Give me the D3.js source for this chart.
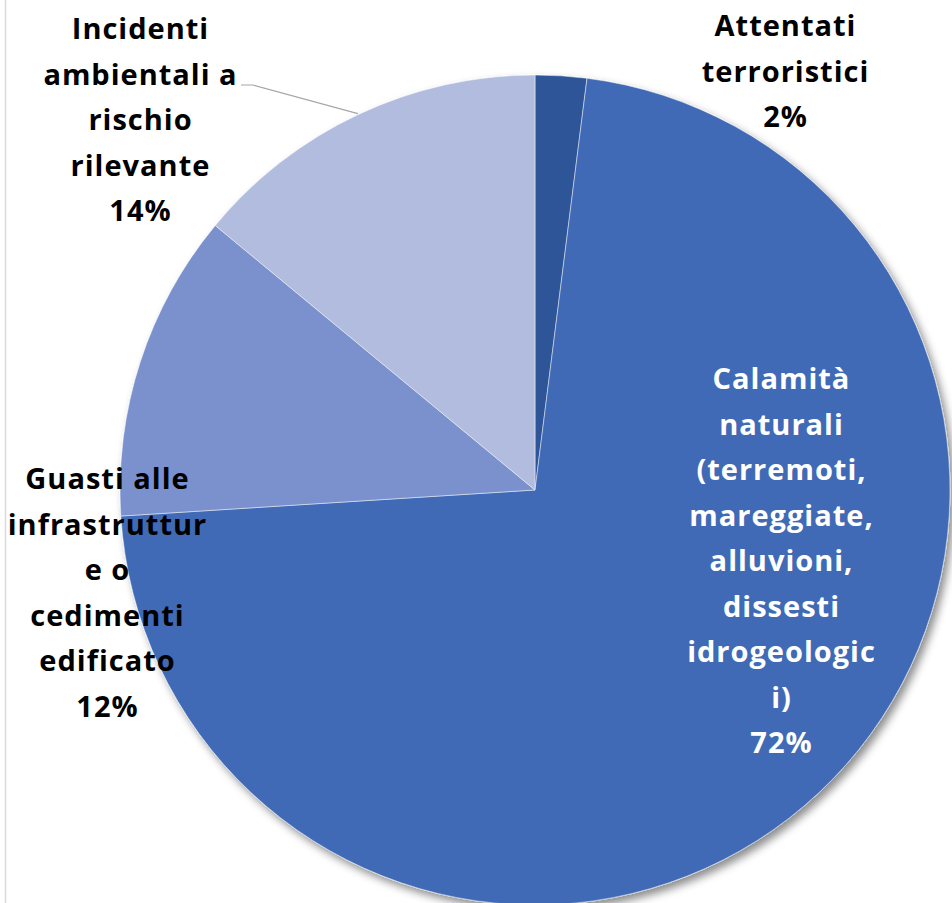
<!DOCTYPE html>
<html>
<head>
<meta charset="utf-8">
<script src="https://cdn.jsdelivr.net/npm/d3@7/dist/d3.min.js"></script>
<style>
  body { margin: 0; background: #fff; }
  svg { display: block; }
  text { font-variant-ligatures: none; }
</style>
</head>
<body>
<script>
// data
const categories = [
  'Attentati terroristici',
  'Calamità naturali (terremoti, mareggiate, alluvioni, dissesti idrogeologici)',
  'Guasti alle infrastrutture o cedimenti edificato',
  'Incidenti ambientali a rischio rilevante'
]
const values = [2, 72, 12, 14]
const percentLabels = ['2%', '72%', '12%', '14%']
// wrapped text as it shows in the chart
const labelLines = [
  ['Attentati', 'terroristici'],
  ['Calamità', 'naturali', '(terremoti,', 'mareggiate,', 'alluvioni,', 'dissesti', 'idrogeologic', 'i)'],
  ['Guasti alle', 'infrastruttur', 'e o', 'cedimenti', 'edificato'],
  ['Incidenti', 'ambientali a', 'rischio', 'rilevante']
]
const colors = ['#2F5597', '#3F6AB6', '#7A91CE', '#B1BCDF']

const width = 952, height = 903
const cx = 535, cy = 490, radius = 415
const lineH = 45.5

// label anchor (centre x, first baseline y) relative to pie centre
const labelPos = [
  { x: 250, y: -454, fill: '#000' },
  { x: 246, y: -101, fill: '#fff' },
  { x: -428, y: -1, fill: '#000' },
  { x: -395, y: -451, fill: '#000' }
]

const svg = d3.select('body')
  .append('svg')
  .attr('width', width)
  .attr('height', height)

// thin frame line on the left
svg.append('line')
  .attr('x1', 5.5).attr('x2', 5.5)
  .attr('y1', 0).attr('y2', height)
  .attr('stroke', '#d9d9d9')
  .attr('stroke-width', 1.5)

const defs = svg.append('defs')
const filter = defs.append('filter')
  .attr('id', 'shadow')
  .attr('x', '-10%').attr('y', '-10%')
  .attr('width', '120%').attr('height', '120%')
filter.append('feDropShadow')
  .attr('dx', 4).attr('dy', 5)
  .attr('stdDeviation', 4)
  .attr('flood-color', '#000')
  .attr('flood-opacity', 0.45)

const g = svg.append('g')
  .attr('transform', `translate(${cx}, ${cy})`)

const pie = d3.pie().sort(null).value(d => d)
const arcs = pie(values)
const arc = d3.arc().innerRadius(0).outerRadius(radius)

g.append('g')
  .attr('filter', 'url(#shadow)')
  .selectAll('path')
  .data(arcs)
  .enter()
  .append('path')
  .attr('d', arc)
  .attr('fill', (d, i) => colors[i])
  .attr('stroke', 'rgba(255,255,255,0.6)')
  .attr('stroke-width', 0.8)

// leader line for the "Incidenti" label, ending at the middle of its arc
const inc = arcs[3]
const edge = d3.arc().innerRadius(radius + 1).outerRadius(radius + 1).centroid(inc)
g.append('polyline')
  .attr('points', [[-294, -405], [-282, -405], edge].map(p => p.join(',')).join(' '))
  .attr('fill', 'none')
  .attr('stroke', '#a6a6a6')
  .attr('stroke-width', 1.2)

// labels
const labels = g.append('g')
  .selectAll('text')
  .data(arcs)
  .enter()
  .append('text')
  .attr('text-anchor', 'middle')
  .attr('font-family', '"Open Sans", Lato, sans-serif')
  .attr('font-weight', 'bold')
  .attr('font-size', 29)
  .attr('letter-spacing', 1)
  .attr('fill', (d, i) => labelPos[i].fill)

labels.each(function (d, i) {
  const t = d3.select(this)
  const lines = labelLines[i].concat([percentLabels[i]])
  lines.forEach((l, j) => {
    t.append('tspan')
      .attr('x', labelPos[i].x + 0.5)
      .attr('y', labelPos[i].y + j * lineH)
      .text(l)
  })
})
</script>
</body>
</html>
